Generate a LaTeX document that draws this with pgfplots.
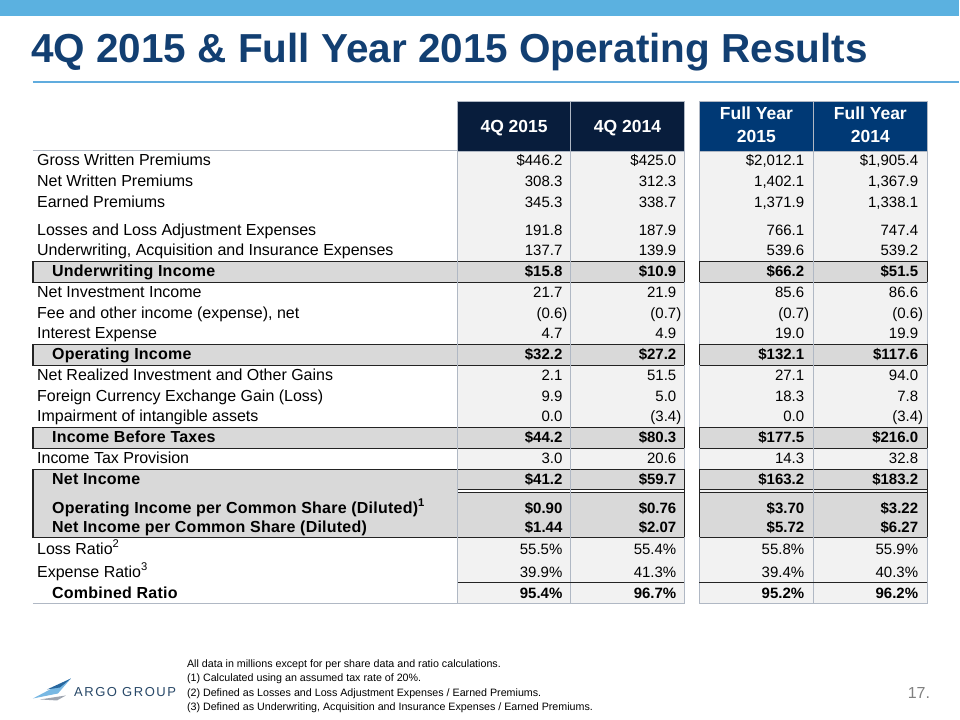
\documentclass[border=0pt]{standalone}
\usepackage{fontspec}
\setmainfont{Liberation Sans}
\usepackage{pgfplots}
\usepackage{pgfplotstable}
\pgfplotsset{compat=1.18}

\definecolor{topbar}{RGB}{91,177,224}
\definecolor{titleblue}{RGB}{18,63,114}
\definecolor{rulecol}{RGB}{96,172,222}
\definecolor{navy}{RGB}{8,29,60}
\definecolor{fyblue}{RGB}{0,57,117}
\definecolor{cellbg}{RGB}{242,242,242}
\definecolor{boxbg}{RGB}{217,217,217}
\definecolor{gridgray}{RGB}{176,184,196}
\definecolor{boxline}{RGB}{35,35,35}
\definecolor{logotext}{RGB}{40,72,104}

\pgfplotstableread[col sep=semicolon]{
y;label;a;b;c;d
165.5;Gross Written Premiums;\$446.2;\$425.0;\$2,012.1;\$1,905.4
186.5;Net Written Premiums;308.3;312.3;1,402.1;1,367.9
207.5;Earned Premiums;345.3;338.7;1,371.9;1,338.1
235.5;Losses and Loss Adjustment Expenses;191.8;187.9;766.1;747.4
255.5;Underwriting, Acquisition and Insurance Expenses;137.7;139.9;539.6;539.2
297.5;Net Investment Income;21.7;21.9;85.6;86.6
318.5;Fee and other income (expense), net;(0.6\rlap{)};(0.7\rlap{)};(0.7\rlap{)};(0.6\rlap{)}
338.5;Interest Expense;4.7;4.9;19.0;19.9
380.5;Net Realized Investment and Other Gains;2.1;51.5;27.1;94.0
401.5;Foreign Currency Exchange Gain (Loss);9.9;5.0;18.3;7.8
421.5;Impairment of intangible assets;0.0;(3.4\rlap{)};0.0;(3.4\rlap{)}
463.5;Income Tax Provision;3.0;20.6;14.3;32.8
554.5;Loss Ratio\textsuperscript{2};55.5\%;55.4\%;55.8\%;55.9\%
577.5;Expense Ratio\textsuperscript{3};39.9\%;41.3\%;39.4\%;40.3\%
}\plainrows

\pgfplotstableread[col sep=semicolon]{
y;label;a;b;c;d
277;Underwriting Income;\$15.8;\$10.9;\$66.2;\$51.5
360;Operating Income;\$32.2;\$27.2;\$132.1;\$117.6
443;Income Before Taxes;\$44.2;\$80.3;\$177.5;\$216.0
485;Net Income;\$41.2;\$59.7;\$163.2;\$183.2
513.5;Operating Income per Common Share (Diluted)\textsuperscript{1};\$0.90;\$0.76;\$3.70;\$3.22
532.5;Net Income per Common Share (Diluted);\$1.44;\$2.07;\$5.72;\$6.27
599;Combined Ratio;95.4\%;96.7\%;95.2\%;96.2\%
}\boldrows

\pgfplotsset{
  txt/.style={draw=none, mark=none, point meta=explicit symbolic,
    nodes near coords={\pgfplotspointmeta}},
  valn/.style={txt, every node near coord/.append style={anchor=base east, inner sep=0pt,
    font=\fontsize{15}{16}\selectfont, text=black}},
  laben/.style={txt, every node near coord/.append style={anchor=base west, inner sep=0pt,
    font=\fontsize{16}{16}\selectfont, text=black}},
  valb/.style={txt, every node near coord/.append style={anchor=base east, inner sep=0pt,
    font=\bfseries\fontsize{15}{16}\selectfont, text=black}},
  labb/.style={txt, every node near coord/.append style={anchor=base west, inner sep=0pt,
    font=\bfseries\fontsize{16}{16}\selectfont\addfontfeature{LetterSpace=1.5}, text=black}},
}
\tikzset{
  bx/.style={fill=boxbg, draw=boxline, line width=1.1pt},
  gl/.style={draw=gridgray, line width=0.8pt},
  bl/.style={draw=boxline, line width=1.1pt},
  hd/.style={anchor=base, inner sep=0pt, text=white, font=\bfseries\fontsize{17.5}{18}\selectfont},
  fn/.style={anchor=base west, inner sep=0pt, font=\fontsize{10.7}{12}\selectfont},
}

\begin{document}
\begin{tikzpicture}
\begin{axis}[
  width=960pt, height=720pt, scale only axis,
  xmin=0, xmax=960, ymin=0, ymax=720, y dir=reverse,
  hide axis, clip=false,
]
% background
\fill[white] (axis cs:0,0) rectangle (axis cs:960,720);
\fill[topbar] (axis cs:0,0) rectangle (axis cs:960,16);
\node[anchor=base west, inner sep=0pt, text=titleblue,
  font=\bfseries\fontsize{40.5}{41}\selectfont] at (axis cs:31,63)
  {4Q 2015 \& Full Year 2015 Operating Results};
\draw[rulecol, line width=1.5pt] (axis cs:33,82) -- (axis cs:960,82);

% number area backgrounds
\fill[cellbg] (axis cs:458,151) rectangle (axis cs:685,604);
\fill[cellbg] (axis cs:700,151) rectangle (axis cs:928,604);

% header
\filldraw[fill=navy, draw=gridgray, line width=0.6pt] (axis cs:458,101) rectangle (axis cs:571,151);
\filldraw[fill=navy, draw=gridgray, line width=0.6pt] (axis cs:571,101) rectangle (axis cs:685,151);
\filldraw[fill=fyblue, draw=gridgray, line width=0.6pt] (axis cs:700,101) rectangle (axis cs:814,151);
\filldraw[fill=fyblue, draw=gridgray, line width=0.6pt] (axis cs:814,101) rectangle (axis cs:928,151);
\node[hd] at (axis cs:514.5,132.5) {4Q 2015};
\node[hd] at (axis cs:628,132.5) {4Q 2014};
\node[hd] at (axis cs:757,119.5) {Full Year};
\node[hd] at (axis cs:757,142.5) {2015};
\node[hd] at (axis cs:871,119.5) {Full Year};
\node[hd] at (axis cs:871,142.5) {2014};

% subtotal boxes
\path[bx] (axis cs:33,261.5) rectangle (axis cs:685,282.5);
\path[bx] (axis cs:700,261.5) rectangle (axis cs:928,282.5);
\path[bx] (axis cs:33,344.5) rectangle (axis cs:685,365.5);
\path[bx] (axis cs:700,344.5) rectangle (axis cs:928,365.5);
\path[bx] (axis cs:33,427.5) rectangle (axis cs:685,448.5);
\path[bx] (axis cs:700,427.5) rectangle (axis cs:928,448.5);
% net income / per share block
\path[bx] (axis cs:33,469.5) rectangle (axis cs:685,537.5);
\path[fill=white, draw=boxline, line width=1.1pt] (axis cs:458,490) rectangle (axis cs:685,493);
\path[bx] (axis cs:700,469.5) rectangle (axis cs:928,490);
\path[bx] (axis cs:700,493) rectangle (axis cs:928,537.5);

% grid lines
\path[gl] (axis cs:33,151) -- (axis cs:458,151);
\path[gl] (axis cs:458,151) -- (axis cs:458,604);
\path[gl] (axis cs:571,151) -- (axis cs:571,604);
\path[gl] (axis cs:685,151) -- (axis cs:685,604);
\path[gl] (axis cs:700,151) -- (axis cs:700,604);
\path[gl] (axis cs:814,151) -- (axis cs:814,604);
\path[gl] (axis cs:928,151) -- (axis cs:928,604);
\path[gl] (axis cs:33,604) -- (axis cs:685,604);
\path[gl] (axis cs:700,604) -- (axis cs:928,604);
% redraw box side edges over grid
\path[bl] (axis cs:685,261.5) -- (axis cs:685,282.5);
\path[bl] (axis cs:700,261.5) -- (axis cs:700,282.5);
\path[bl] (axis cs:928,261.5) -- (axis cs:928,282.5);
\path[bl] (axis cs:685,344.5) -- (axis cs:685,365.5);
\path[bl] (axis cs:700,344.5) -- (axis cs:700,365.5);
\path[bl] (axis cs:928,344.5) -- (axis cs:928,365.5);
\path[bl] (axis cs:685,427.5) -- (axis cs:685,448.5);
\path[bl] (axis cs:700,427.5) -- (axis cs:700,448.5);
\path[bl] (axis cs:928,427.5) -- (axis cs:928,448.5);
\path[bl] (axis cs:685,469.5) -- (axis cs:685,537.5);
\path[bl] (axis cs:700,469.5) -- (axis cs:700,537.5);
\path[bl] (axis cs:928,469.5) -- (axis cs:928,537.5);
% combined ratio rule
\path[bl] (axis cs:458,583) -- (axis cs:685,583);
\path[bl] (axis cs:700,583) -- (axis cs:928,583);

% data text
\addplot[laben] table[x expr=37, y=y, meta=label] {\plainrows};
\addplot[valn] table[x expr=563, y=y, meta=a] {\plainrows};
\addplot[valn] table[x expr=677, y=y, meta=b] {\plainrows};
\addplot[valn] table[x expr=805, y=y, meta=c] {\plainrows};
\addplot[valn] table[x expr=919, y=y, meta=d] {\plainrows};
\addplot[labb] table[x expr=52, y=y, meta=label] {\boldrows};
\addplot[valb] table[x expr=563, y=y, meta=a] {\boldrows};
\addplot[valb] table[x expr=677, y=y, meta=b] {\boldrows};
\addplot[valb] table[x expr=805, y=y, meta=c] {\boldrows};
\addplot[valb] table[x expr=919, y=y, meta=d] {\boldrows};

% footnotes
\node[fn] at (axis cs:187,668) {All data in millions except for per share data and ratio calculations.};
\node[fn] at (axis cs:187,682) {(1) Calculated using an assumed tax rate of 20\%.};
\node[fn] at (axis cs:187,697) {(2) Defined as Losses and Loss Adjustment Expenses / Earned Premiums.};
\node[fn] at (axis cs:187,711) {(3) Defined as Underwriting, Acquisition and Insurance Expenses / Earned Premiums.};

% logo
\fill[rulecol!85!white] (axis cs:33,699) -- (axis cs:71,679) -- (axis cs:58,694) -- cycle;
\fill[fyblue!60!rulecol] (axis cs:47,690) -- (axis cs:71,679) -- (axis cs:60,688) -- cycle;
\fill[gridgray!90!black] (axis cs:40,700) -- (axis cs:66,696) -- (axis cs:57,701) -- cycle;
\node[anchor=base west, inner sep=0pt, text=logotext,
  font=\fontsize{13}{13}\selectfont\addfontfeature{LetterSpace=12}] at (axis cs:74,697) {ARGO GROUP};

% page number
\node[anchor=base east, inner sep=0pt, text=gray,
  font=\fontsize{16}{16}\selectfont] at (axis cs:931,699) {17.};
\end{axis}
\end{tikzpicture}
\end{document}
